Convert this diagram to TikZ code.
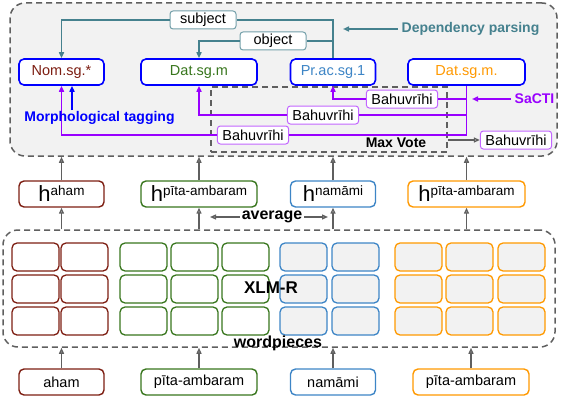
\documentclass[tikz,border=0pt]{standalone}
\usepackage{fontspec}
\setmainfont{Liberation Sans}
\usetikzlibrary{arrows.meta, positioning, calc}
\usepackage{xcolor}
\definecolor{cred}{RGB}{125,30,18}
\definecolor{cgreen}{RGB}{56,118,29}
\definecolor{cblue}{RGB}{61,133,198}
\definecolor{corange}{RGB}{255,153,0}
\definecolor{cteal}{RGB}{69,129,142}
\definecolor{cpurple}{RGB}{153,0,255}
\definecolor{lgray}{RGB}{242,242,242}
\definecolor{dgray}{RGB}{95,95,95}

\newcommand{\hvec}[1]{{\fontsize{22}{22}\selectfont h}\raisebox{6pt}{\fontsize{13.5}{14}\selectfont #1}}

\begin{document}
\begin{tikzpicture}[x=1pt,y=-1pt,
  font=\fontsize{14.5}{16}\selectfont,
  tag/.style={draw=blue,line width=1.6pt,rounded corners=5pt,fill=white,
              minimum height=26pt,inner sep=2pt},
  hbox/.style={line width=1.4pt,rounded corners=5pt,fill=white,
               minimum height=26pt,inner sep=1pt},
  word/.style={line width=1.4pt,rounded corners=5pt,fill=white,
               minimum height=26pt,inner sep=2pt},
  cell/.style={line width=1.3pt,rounded corners=5pt,minimum width=47pt,
               minimum height=28pt,inner sep=0pt},
  deplbl/.style={draw=cteal!75,fill=white,line width=1pt,rounded corners=3pt,
                 minimum width=66pt,minimum height=18pt,inner sep=1pt},
  bahu/.style={draw=cpurple!60,fill=white,line width=1pt,rounded corners=3pt,
               minimum height=18pt,inner xsep=5pt,inner ysep=1pt},
  dashbox/.style={draw=dgray,dash pattern=on 6pt off 4pt,line width=1.5pt,
                  rounded corners=15pt},
  bold/.style={font=\fontsize{14}{16}\selectfont\bfseries},
  bigbold/.style={font=\fontsize{16}{18}\selectfont\bfseries},
  dep/.style={cteal,line width=1.5pt},
  sacti/.style={cpurple,line width=1.5pt},
  tip/.style={-{Triangle[open,length=6pt,width=5pt]}},
  arr/.style={tip,dgray,line width=1.3pt}
]
\useasboundingbox (0,0) rectangle (564,396);

% parsing / tagging block
\node[dashbox,fill=lgray,minimum width=547pt,minimum height=153pt] (parse) at (283.5,79.5) {};
\node[dashbox,sharp corners,minimum width=236pt,minimum height=65pt] (mv) at (329,119.5) {};

\node[tag,minimum width=85pt,text=cred]     (nom)  at (61.5,72)  {Nom.sg.*};
\node[tag,minimum width=116pt,text=cgreen]  (dat)  at (199,72)   {Dat.sg.m};
\node[tag,minimum width=85pt,text=cblue]    (prac) at (333,72)   {Pr.ac.sg.1};
\node[tag,minimum width=117pt,text=corange] (datm) at (466.5,72) {Dat.sg.m.};

\node[deplbl] (subj) at (203,20) {subject};
\node[deplbl] (obj)  at (273,41) {object};
\draw[dep] (prac.north) |- (subj.east);
\draw[dep,tip] (subj.west) -| (nom.north);
\draw[dep] (prac.north |- obj) -- (obj.east);
\draw[dep,tip] (obj.west) -| (dat.north);

\node[bold,text=cteal] (dp) at (470.5,29) {Dependency parsing};
\coordinate (dptip) at (343,29);
\draw[dep,tip] (dp.west) -- (dptip);

\node[bahu] (bv1) at (402,99)  {Bahuvrīhi};
\node[bahu] (bv2) at (323,115) {Bahuvrīhi};
\node[bahu] (bv3) at (253,135) {Bahuvrīhi};
\draw[sacti] (datm.south) |- (bv3.east);
\draw[sacti,tip] (bv3.west) -| (nom.south);
\draw[sacti] (datm.south |- bv2) -- (bv2.east);
\draw[sacti,tip] (bv2.west) -| (dat.south);
\draw[sacti] (datm.south |- bv1) -- (bv1.east);
\draw[sacti,tip] (bv1.west) -| (prac.south);

\node[bold,text=cpurple] (sct) at (534.5,99) {SaCTI};
\coordinate (scttip) at (472,99);
\draw[sacti,tip] (sct.west) -- (scttip);

\node[bold,text=blue] (mt) at (99.5,118) {Morphological tagging};
\coordinate (mtfoot) at (72,110);
\draw[blue,line width=1.5pt,tip] (mtfoot) -- (mtfoot |- nom.south);

\node[bold] (mvlbl) at (396,143) {Max Vote};
\node[bahu] (bv4) at (516,140) {Bahuvrīhi};
\draw[arr] (mv.east |- bv4.west) -- (bv4.west);

% word vectors
\node[hbox,draw=cred,minimum width=85pt]     (hA) at (61.5,194)  {\hvec{aham}};
\node[hbox,draw=cgreen,minimum width=116pt]  (hB) at (199,194)   {\hvec{pīta-ambaram}};
\node[hbox,draw=cblue,minimum width=85pt]    (hC) at (333,194)   {\hvec{namāmi}};
\node[hbox,draw=corange,minimum width=117pt] (hD) at (466.5,194) {\hvec{pīta-ambaram}};

\node[bigbold,inner sep=2pt] (avg) at (272,217) {average};
\coordinate (avgL) at (210,217);
\coordinate (avgR) at (328,217);
\draw[arr] (avg.west) -- (avgL);
\draw[arr] (avg.east) -- (avgR);

% encoder
\node[dashbox,minimum width=552pt,minimum height=117pt] (xlm) at (279,288.5) {};
\foreach \cx/\cc/\cf/\nm in {12/cred/white/a1, 61/cred/white/a2,
    120/cgreen/white/b1, 171/cgreen/white/b2, 222/cgreen/white/b3,
    280/cblue/lgray/c1, 332/cblue/lgray/c2,
    395/corange/lgray/d1, 446/corange/lgray/d2, 498/corange/lgray/d3}
  \foreach \cy [count=\j] in {243,275,307}
    \node[cell,draw=\cc,fill=\cf] (c\nm\j) at (\cx+23.5,\cy+14) {};
\node[font=\fontsize{17}{19}\selectfont\bfseries] (xlmr) at (271,288) {XLM-R};
\node[bigbold] (wp) at (278,343) {wordpieces};

% input words
\node[word,draw=cred,minimum width=85pt]     (wA) at (61.5,382) {aham};
\node[word,draw=cgreen,minimum width=116pt]  (wB) at (199,382)  {pīta-ambaram};
\node[word,draw=cblue,minimum width=85pt]    (wC) at (333,382)  {namāmi};
\node[word,draw=corange,minimum width=116pt] (wD) at (471,382)  {pīta-ambaram};

\foreach \n in {hA,hB,hC,hD} {
  \draw[arr] (\n.north) -- (\n.north |- parse.south);
  \draw[arr] (\n.south |- xlm.north) -- (\n.south);
}
\foreach \n in {wA,wB,wC,wD}
  \draw[arr] (\n.north) -- (\n.north |- xlm.south);
\end{tikzpicture}
\end{document}
